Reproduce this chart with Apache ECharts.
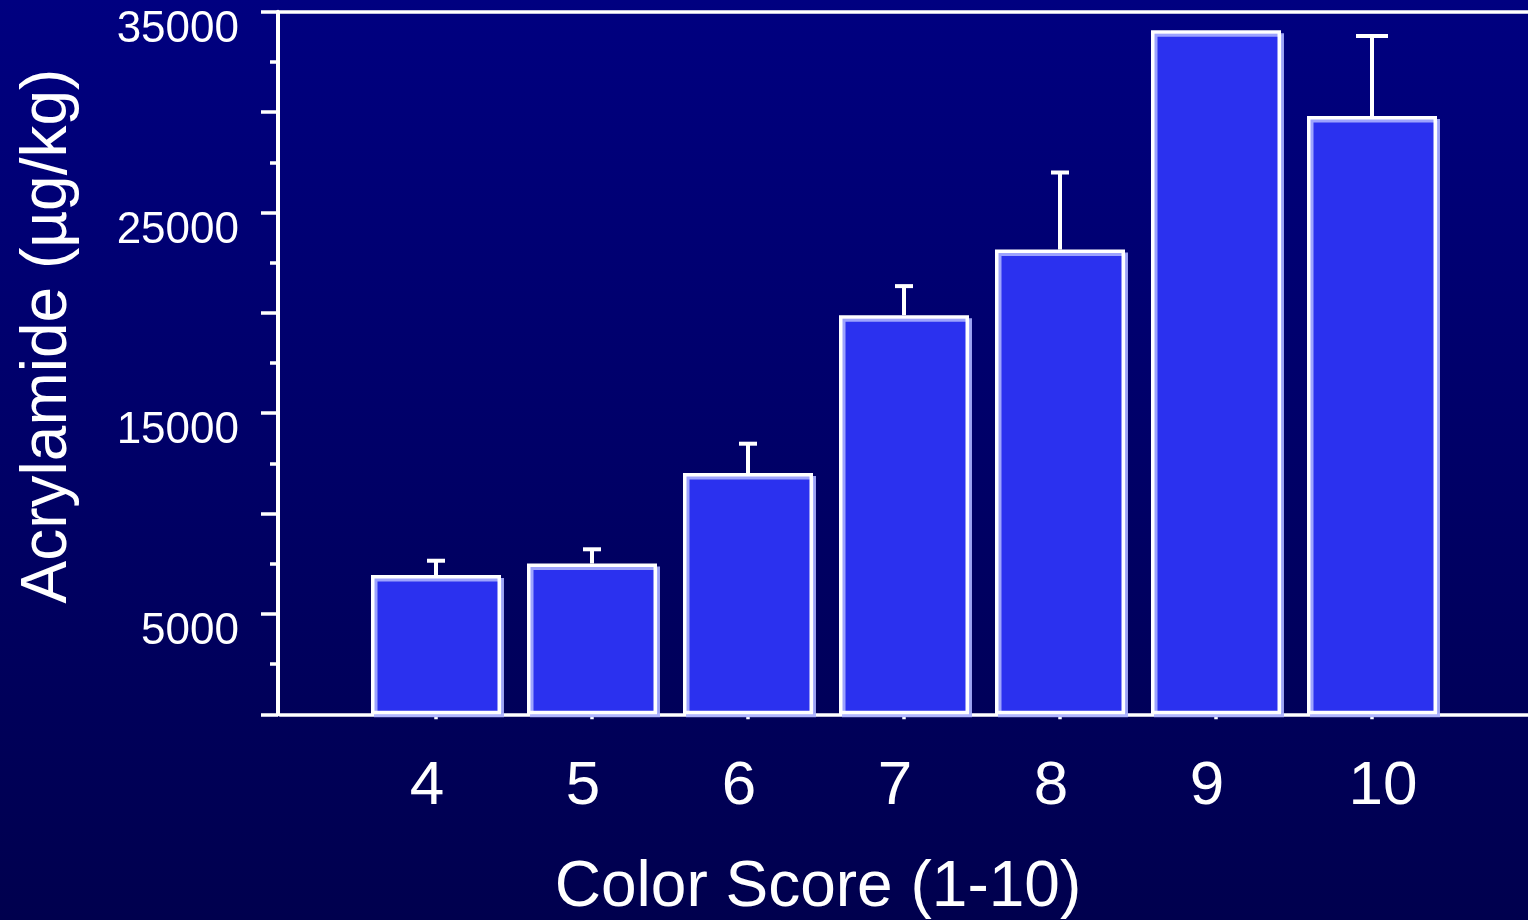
<!DOCTYPE html>
<html>
<head>
<meta charset="utf-8">
<script src="https://cdn.jsdelivr.net/npm/echarts@6/dist/echarts.min.js"></script>
<style>
  html, body { margin: 0; padding: 0; background: #000066; }
  #chart { width: 1528px; height: 920px; }
</style>
</head>
<body>
<div id="chart"></div>
<script>
// Acrylamide content by color score, mean with upper SD
const scores = ['4', '5', '6', '7', '8', '9', '10'];
const acrylamide = [6940, 7510, 12020, 19880, 23150, 34080, 29800];
const sdUpper = [710, 710, 1460, 1450, 3840, 0, 3990];
const yLabelValues = [5000, 15000, 25000, 35000];

// half-width of each error cap, in px
const capHalf = [9, 9, 9, 9, 9, 9, 16];

// one empty slot on each side of the scores
const axisCats = ['3'].concat(scores, ['11']);
const inner = (i) => i > 0 && i < axisCats.length - 1;

const FONT = '"Liberation Sans", Arial, Helvetica, sans-serif';
const WHITE = '#ffffff';

const chart = echarts.init(document.getElementById('chart'), null, { renderer: 'canvas' });

chart.setOption({
  animation: false,
  backgroundColor: new echarts.graphic.LinearGradient(0, 0, 0, 1, [
    { offset: 0, color: '#000080' },
    { offset: 1, color: '#00004e' }
  ]),
  grid: {
    left: 280, right: 0, top: 11.7, bottom: 205.7,
    containLabel: false, outerBoundsMode: 'none'
  },
  xAxis: [
    {
      type: 'category',
      data: axisCats,
      boundaryGap: false,
      position: 'bottom',
      axisLine: { lineStyle: { color: WHITE, width: 3.5 } },
      axisTick: {
        show: true, length: 5, interval: (i) => inner(i),
        lineStyle: { color: WHITE, width: 3.5 }
      },
      axisLabel: {
        interval: (i) => inner(i),
        margin: 42,
        color: WHITE,
        fontFamily: FONT,
        fontSize: 62,
        formatter: (v) => {
          if (v === '3' || v === '11') return '';
          return v.length > 1 ? '{b|' + v + '}' : '{a|' + v + '}';
        },
        rich: {
          a: { fontFamily: FONT, fontSize: 62, color: WHITE, padding: [0, 18, 0, 0] },
          b: { fontFamily: FONT, fontSize: 62, color: WHITE, padding: [0, 0, 0, 22] }
        }
      },
      splitLine: { show: false },
      name: 'Color Score (1-10)',
      nameLocation: 'middle',
      nameGap: 142,
      nameTextStyle: { color: WHITE, fontFamily: FONT, fontSize: 64, padding: [0, 172, 0, 0] }
    },
    {
      type: 'category',
      data: axisCats,
      boundaryGap: false,
      position: 'top',
      axisLine: { lineStyle: { color: WHITE, width: 3.5 } },
      axisTick: { show: false },
      axisLabel: { show: false },
      splitLine: { show: false }
    }
  ],
  yAxis: {
    type: 'value',
    min: 0,
    max: 35000,
    interval: 5000,
    offset: 2,
    axisLine: { show: true, lineStyle: { color: WHITE, width: 4 } },
    axisTick: { show: true, length: 17, lineStyle: { color: WHITE, width: 3.5 } },
    minorTick: { show: true, splitNumber: 2, length: 8, lineStyle: { color: WHITE, width: 3.5 } },
    splitLine: { show: false },
    minorSplitLine: { show: false },
    axisLabel: {
      color: WHITE,
      fontFamily: FONT,
      fontSize: 44,
      margin: 39,
      verticalAlign: 'top',
      lineHeight: 36,
      formatter: (v) => (yLabelValues.indexOf(v) >= 0 ? String(v) : '')
    },
    name: 'Acrylamide (µg/kg)',
    nameLocation: 'middle',
    nameRotate: 90,
    nameGap: 198,
    nameTextStyle: { color: WHITE, fontFamily: FONT, fontSize: 64, padding: [0, 0, 0, 54] }
  },
  series: [
    {
      type: 'bar',
      xAxisIndex: 0,
      barWidth: 130,
      data: scores.map((s, i) => [s, acrylamide[i]]),
      itemStyle: {
        color: '#2b31ef',
        borderColor: WHITE,
        borderWidth: 3.5,
        shadowColor: 'rgba(170,176,255,0.9)',
        shadowBlur: 0,
        shadowOffsetX: 3,
        shadowOffsetY: 3
      },
      z: 2
    },
    {
      type: 'custom',
      xAxisIndex: 0,
      data: scores.map((s, i) => [s, acrylamide[i], sdUpper[i]]),
      z: 3,
      renderItem: (params, api) => {
        const x = api.value(0);
        const v = api.value(1);
        const e = api.value(2);
        if (!e) return null;
        const base = api.coord([x, v]);
        const top = api.coord([x, v + e]);
        const h = capHalf[params.dataIndex];
        return {
          type: 'group',
          children: [
            { type: 'line', shape: { x1: base[0], y1: base[1], x2: top[0], y2: top[1] },
              style: { stroke: WHITE, lineWidth: 4 } },
            { type: 'line', shape: { x1: top[0] - h, y1: top[1], x2: top[0] + h, y2: top[1] },
              style: { stroke: WHITE, lineWidth: 4 } }
          ]
        };
      }
    }
  ]
});
</script>
</body>
</html>
